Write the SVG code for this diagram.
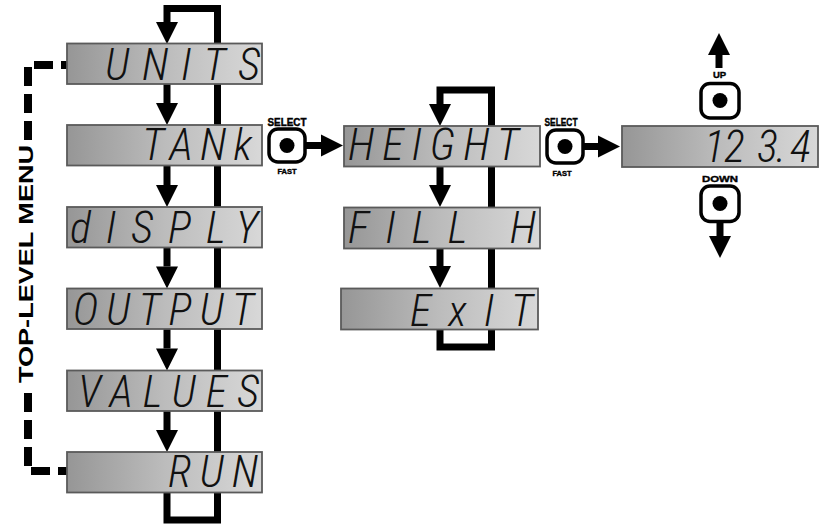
<svg xmlns="http://www.w3.org/2000/svg" width="825" height="525" viewBox="0 0 825 525">
<defs>
<linearGradient id="lcd" x1="0" y1="0" x2="1" y2="0">
<stop offset="0" stop-color="#969696"/>
<stop offset="0.5" stop-color="#bcbcbc"/>
<stop offset="1" stop-color="#d8d8d8"/>
</linearGradient>
<marker id="ah" markerUnits="userSpaceOnUse" markerWidth="23" markerHeight="22" refX="0" refY="11" orient="auto" overflow="visible">
<path d="M0,0 L22,11 L0,22 z" fill="#000"/>
</marker>
</defs>
<style>
.box{fill:url(#lcd);stroke:#5a5a5a;stroke-width:1.8}
.lcd{font-family:"Roboto Condensed","Roboto","DejaVu Sans Mono",sans-serif;font-weight:300;font-style:italic;font-size:44px;fill:#111}
.ln{fill:none;stroke:#000;stroke-width:7;stroke-linejoin:miter}
.arr{fill:none;stroke:#000;stroke-width:7;marker-end:url(#ah)}
.dash{fill:none;stroke:#000;stroke-width:8;stroke-dasharray:19 8}
.btn{fill:#fff;stroke:#000;stroke-width:3.5}
.dot{fill:#000}
.lbl{font-family:"Liberation Sans",Arial,sans-serif;font-weight:bold;fill:#000;stroke:#000;stroke-width:0.4;text-anchor:middle}
.title{font-family:"Liberation Sans",Arial,sans-serif;font-weight:bold;font-size:21px;fill:#000}
</style>
<rect width="825" height="525" fill="#fff"/>

<g id="connectors">
<path class="arr" d="M167,493 V520 H217.5 V8.5 H167 V22"/>
<path class="arr" d="M167,84 V103"/>
<path class="arr" d="M167,165.5 V185"/>
<path class="arr" d="M167,247.5 V266.5"/>
<path class="arr" d="M167,329 V348.5"/>
<path class="arr" d="M167,411 V430"/>
<path class="arr" d="M440,330 V347 H491.5 V90 H440 V104"/>
<path class="arr" d="M440,167 V185"/>
<path class="arr" d="M440,249 V266"/>
<path class="arr" d="M305,145.5 H321"/>
<path class="arr" d="M583,146.5 H598"/>
<path class="arr" d="M719,68 V55"/>
<path class="arr" d="M720,222 V236"/>
<path class="dash" d="M67,65 H28 V141" stroke-dashoffset="13"/>
<path class="dash" d="M28,393 V471 H67"/>
</g>

<g id="label-top-level-menu">
<text class="title" transform="translate(33,264) rotate(-90)" x="-119" y="0" textLength="238" lengthAdjust="spacingAndGlyphs">TOP-LEVEL MENU</text>
</g>

<g id="units">
<rect class="box" x="67" y="43.5" width="195" height="40.5"/>
<text class="lcd" x="105" y="80" textLength="155" lengthAdjust="spacing">UNITS</text>
</g>
<g id="tank">
<rect class="box" x="67" y="125" width="195" height="40.5"/>
<text class="lcd" x="142" y="160" textLength="110" lengthAdjust="spacing">TANk</text>
</g>
<g id="display">
<rect class="box" x="67" y="207" width="195" height="40.5"/>
<text class="lcd" x="70" y="243" textLength="188" lengthAdjust="spacing">dISPLY</text>
</g>
<g id="output">
<rect class="box" x="67" y="288.5" width="195" height="40.5"/>
<text class="lcd" x="73" y="325" textLength="181" lengthAdjust="spacing">OUTPUT</text>
</g>
<g id="values">
<rect class="box" x="67" y="370.5" width="195" height="40.5"/>
<text class="lcd" x="78" y="407" textLength="181" lengthAdjust="spacing">VALUES</text>
</g>
<g id="run">
<rect class="box" x="67" y="452" width="195" height="40.5"/>
<text class="lcd" x="168" y="487" textLength="90" lengthAdjust="spacing">RUN</text>
</g>

<g id="select-button-1">
<text class="lbl" x="287" y="126" font-size="10" textLength="39" lengthAdjust="spacingAndGlyphs">SELECT</text>
<rect class="btn" x="269" y="129" width="36" height="33" rx="9"/>
<circle class="dot" cx="287" cy="145.5" r="7.5"/>
<text class="lbl" x="287" y="174" font-size="7.5">FAST</text>
</g>

<g id="height">
<rect class="box" x="344" y="126" width="196" height="40.5"/>
<text class="lcd" x="348" y="160" textLength="171" lengthAdjust="spacing">HEIGHT</text>
</g>
<g id="fill-h">
<rect class="box" x="344" y="207.5" width="196" height="41"/>
<text class="lcd" x="348" y="243" textLength="188" lengthAdjust="spacing" xml:space="preserve">FILL H</text>
</g>
<g id="exit">
<rect class="box" x="341" y="288.5" width="197" height="41"/>
<text class="lcd" x="410" y="326" textLength="123" lengthAdjust="spacing">ExIT</text>
</g>

<g id="select-button-2">
<text class="lbl" x="561" y="126" font-size="10" textLength="33" lengthAdjust="spacingAndGlyphs">SELECT</text>
<rect class="btn" x="547" y="130" width="36" height="33" rx="9"/>
<circle class="dot" cx="565" cy="146.5" r="7.5"/>
<text class="lbl" x="562" y="176" font-size="7.5">FAST</text>
</g>

<g id="value-display">
<rect class="box" x="622" y="126" width="196" height="41"/>
<text class="lcd" x="704 724 757 776 790" y="162">123.4</text>
</g>

<g id="up-button">
<text class="lbl" x="719.5" y="78" font-size="9.5">UP</text>
<rect class="btn" x="701" y="83.5" width="38" height="34.5" rx="9"/>
<circle class="dot" cx="720" cy="100.5" r="7.5"/>
</g>

<g id="down-button">
<text class="lbl" x="720" y="182" font-size="9.5" textLength="36" lengthAdjust="spacingAndGlyphs">DOWN</text>
<rect class="btn" x="701" y="186" width="38" height="35.5" rx="9"/>
<circle class="dot" cx="720" cy="203.5" r="7.5"/>
</g>
</svg>
